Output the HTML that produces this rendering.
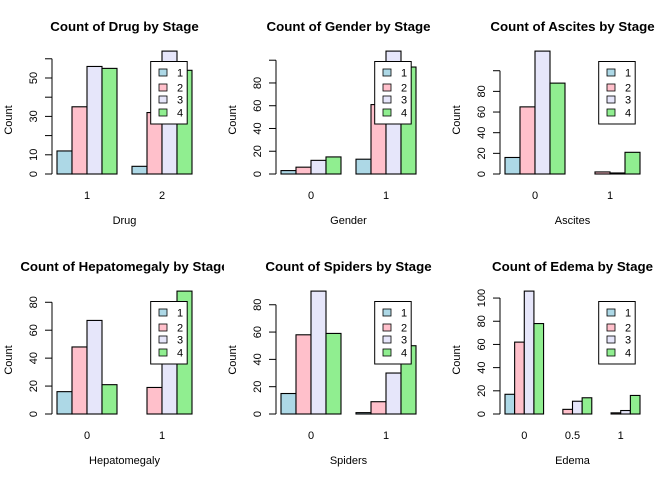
<!DOCTYPE html>
<html><head><meta charset="utf-8"><style>
body{margin:0;background:#fff;}
svg{display:block;font-family:"Liberation Sans",Arial,sans-serif;}
</style></head><body>
<svg id="root" width="672" height="480" viewBox="0 0 672 480"></svg>
<script>
const titles=["Count of Drug by Stage","Count of Gender by Stage","Count of Ascites by Stage","Count of Hepatomegaly by Stage","Count of Spiders by Stage","Count of Edema by Stage"];
const xTitles=["Drug","Gender","Ascites","Hepatomegaly","Spiders","Edema"];
const categories=[["1","2"],["0","1"],["0","1"],["0","1"],["0","1"],["0","0.5","1"]];
const stage1=[[12,4],[3,13],[16,0],[16,0],[15,1],[17,0,0]];
const stage2=[[35,32],[6,61],[65,2],[48,19],[58,9],[62,4,1]];
const stage3=[[56,64],[12,108],[119,1],[67,53],[90,30],[106,11,3]];
const stage4=[[55,54],[15,94],[88,21],[21,88],[59,50],[78,14,16]];
const yTicks=[[0,10,20,30,40,50,60],[0,20,40,60,80,100],[0,20,40,60,80,100],[0,20,40,60,80],[0,20,40,60,80],[0,20,40,60,80,100]];
const yTickLabels=[["0","10","","30","","50",""],["0","20","40","60","80",""],["0","20","40","60","80",""],["0","20","40","60","80"],["0","20","40","60","80"],["0","20","40","60","80","100"]];
const stageNames=["1","2","3","4"];
const colors=["#ADD8E6","#FFC0CB","#E6E6FA","#90EE90"];
const NS="http://www.w3.org/2000/svg";
const root=document.getElementById('root');
function mk(tag,attrs,parent){const e=document.createElementNS(NS,tag);for(const k in attrs)e.setAttribute(k,attrs[k]);parent.appendChild(e);return e;}
const series=[stage1,stage2,stage3,stage4];
for(let p=0;p<6;p++){
  const px=(p%3)*224, py=Math.floor(p/3)*240;
  const g=mk('svg',{x:px,y:py,width:224,height:240,overflow:'hidden'},root);
  
  
  const cats=categories[p], nG=cats.length;
  const all=[].concat(...series.map(s=>s[p]));
  const maxV=Math.max(...all);
  const y0=174, sc=122.9/maxV;
  const yS=v=>y0-v*sc;
  const totalU=nG*5-1, ux=135/totalU;
  const xS=u=>57+(u-1)*ux;
  const t=mk('text',{x:124.5,y:31,'text-anchor':'middle','font-size':'13.3','font-weight':'bold',fill:'#000'},g);
  t.textContent=titles[p];
  
  
  for(let c=0;c<nG;c++){
    for(let s=0;s<4;s++){
      const v=series[s][p][c];
      const u=1+c*5+s;
      const r=mk('rect',{x:xS(u),y:yS(v),width:ux,height:v*sc,fill:colors[s],stroke:'#000','stroke-width':1.1},g);
      
      
    }
    const xl=mk('text',{x:xS(1+c*5+2),y:199,'text-anchor':'middle','font-size':'11',fill:'#000'},g);
    xl.textContent=cats[c];
    
    
  }
  const ticks=yTicks[p];
  const ax=mk('line',{x1:52,x2:52,y1:yS(ticks[0]),y2:yS(ticks[ticks.length-1]),stroke:'#000','stroke-width':1},g);
  
  
  ticks.forEach((v,i)=>{
    mk('line',{x1:45,x2:52,y1:yS(v),y2:yS(v),stroke:'#000','stroke-width':1},g);
    const lab=yTickLabels[p][i];
    if(lab){
      const tl=mk('text',{x:0,y:0,transform:`translate(37,${yS(v)}) rotate(-90)`,'text-anchor':'middle','font-size':'11',fill:'#000'},g);
      tl.textContent=lab;
      
      
    }
  });
  const yt=mk('text',{x:0,y:0,transform:'translate(12,120) rotate(-90)','text-anchor':'middle','font-size':'11',fill:'#000'},g);
  yt.textContent='Count';
  
  
  const xt=mk('text',{x:124.5,y:224,'text-anchor':'middle','font-size':'11',fill:'#000'},g);
  xt.textContent=xTitles[p];
  
  
  const lg=mk('g',{},g);
  
  
  mk('rect',{x:150.7,y:61.5,width:36.5,height:62.5,fill:'#fff',stroke:'#000','stroke-width':1},lg);
  const rowsY=[73,88,100,113];
  for(let s=0;s<4;s++){
    const sw=mk('rect',{x:159,y:rowsY[s]-4,width:8,height:7,fill:colors[s],stroke:'#000','stroke-width':0.8},lg);
    
    
    const lt=mk('text',{x:177,y:rowsY[s]+3.5,'font-size':'11',fill:'#000'},lg);
    lt.textContent=stageNames[s];
    
    
  }
}
</script>
</body></html>
